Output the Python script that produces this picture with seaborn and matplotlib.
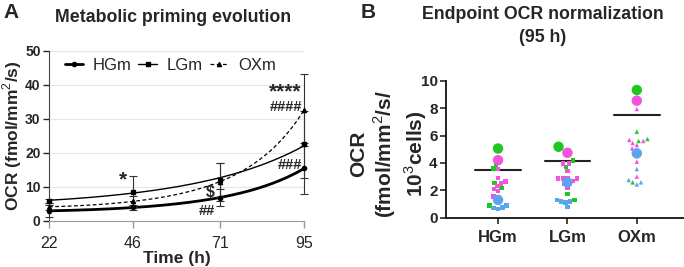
import numpy as np
import pandas as pd
import matplotlib
matplotlib.use("Agg")
import matplotlib.pyplot as plt
import seaborn as sns

# Panel A: OCR over time (mean +/- SD)
time_h = [22, 46, 71, 95]
hgm_mean = [2.9, 3.9, 6.8, 15.4]
hgm_err = [1.7, 0.8, 2.6, 7.4]
lgm_mean = [5.9, 8.6, 12.0, 22.5]
lgm_err = [0.6, 4.7, 4.9, 9.8]
oxm_mean = [4.1, 5.7, 11.5, 32.6]
oxm_err = [1.0, 1.5, 5.6, 10.5]

# Panel B: endpoint OCR normalized per 10^3 cells
groups = ["HGm", "LGm", "OXm"]
replicates = ["green", "magenta", "blue"]
rep_colors = {"green": "#1ec81e", "magenta": "#f055dc", "blue": "#5aa5f0"}
# replicate means (big dots)
rep_mean_hgm = [5.05, 4.2, 1.3]
rep_mean_lgm = [5.18, 4.74, 2.58]
rep_mean_oxm = [9.32, 8.54, 4.70]
# single wells (small dots)
hgm_green = [3.85, 3.6, 2.55, 2.15, 0.9]
hgm_magenta = [3.55, 2.9, 2.65, 2.5, 2.3, 2.1, 1.95, 1.55, 1.5]
hgm_blue = [1.15, 0.9, 0.75, 0.72, 0.62]
lgm_green = [4.7, 4.16, 3.72, 1.71, 1.29]
lgm_magenta = [3.97, 3.97, 3.41, 2.87, 2.87, 2.87, 2.87, 2.68, 2.51, 2.45, 2.19]
lgm_blue = [1.29, 1.17, 1.17, 1.1, 0.8]
oxm_green = [6.28, 5.74, 5.6, 4.77, 2.58]
oxm_magenta = [7.93, 5.67, 5.6, 5.45, 5.3, 5.06, 4.87, 4.5, 4.09, 3.0]
oxm_blue = [3.55, 2.75, 2.58, 2.43]

sns.set_style("ticks")
plt.rcParams['font.family'] = ['Liberation Sans', 'DejaVu Sans']
plt.rcParams['mathtext.fontset'] = 'custom'
plt.rcParams['mathtext.rm'] = 'Liberation Sans'
plt.rcParams['mathtext.bf'] = 'Liberation Sans:bold'

fig = plt.figure(figsize=(6.84, 2.67), dpi=100)
axA = fig.add_axes([49 / 684, 46.3 / 267, 255 / 684, 169.7 / 267])
axB = fig.add_axes([446 / 684, 49.3 / 267, 238 / 684, 137 / 267])

# ---- Panel A
series = [
    ("HGm", hgm_mean, hgm_err, "o", "-", 2.0, 3),
    ("LGm", lgm_mean, lgm_err, "s", "-", 1.0, 3.5),
    ("OXm", oxm_mean, oxm_err, "^", (0, (3, 2)), 0.9, 3),
]
t = np.array(time_h, dtype=float)
t_fine = np.linspace(t.min(), t.max(), 200)
handles = []
for name, m, e, mk, ls, lw, ms in series:
    # exponential-type growth fit through the means
    coef = np.polyfit(t, np.log(m), 2)
    fit = pd.DataFrame({"t": t_fine, "y": np.exp(np.polyval(coef, t_fine))})
    sns.lineplot(data=fit, x="t", y="y", ax=axA, color="black", lw=lw,
                 linestyle=ls, legend=False)
    axA.errorbar(time_h, m, yerr=e, fmt=mk, ms=ms, color="black", ecolor="#333333",
                 elinewidth=0.8, capsize=3, capthick=0.8, clip_on=False, zorder=3)
    h, = axA.plot([], [], color="black", lw=lw, linestyle=ls, marker=mk, ms=ms)
    handles.append(h)

axA.set_xlim(22, 95)
axA.set_ylim(0, 50)
axA.set_xticks(time_h)
axA.set_yticks([0, 10, 20, 30, 40, 50])
axA.yaxis.grid(True, color="#e6e6e6", lw=0.8)
axA.set_axisbelow(True)
for lab in axA.get_yticklabels():
    lab.set_fontweight("bold")
axA.tick_params(axis="y", labelsize=10, length=4, width=1, pad=2)
axA.tick_params(axis="x", labelsize=11.5, length=5, width=1, color="#999999", pad=6)
axA.spines["left"].set_color("#444444")
axA.spines["bottom"].set_color("#999999")
sns.despine(ax=axA)
axA.set_xlabel("Time (h)", fontsize=12.5, fontweight="bold", labelpad=0)
axA.set_ylabel("OCR (fmol/mm$^2$/s)", fontsize=12.5, fontweight="bold")
axA.yaxis.set_label_coords(-0.098, 0.5)
axA.legend(handles, ["HGm", "LGm", "OXm"], loc="upper center", bbox_to_anchor=(0.475, 1.05),
           ncol=3, frameon=False, fontsize=12, handlelength=1.1, columnspacing=0.4,
           handletextpad=0.6)

axA.text(43.2, 12.0, "*", fontsize=15, fontweight="bold", ha="center", va="center")
axA.text(68.3, 8.3, "$", fontsize=11.5, fontweight="bold", ha="center", va="center")
axA.text(67.2, 2.8, "##", fontsize=10.5, fontweight="bold", ha="center", va="center")
axA.text(91.0, 16.4, "###", fontsize=10.5, fontweight="bold", ha="center", va="center")
axA.text(89.8, 33.4, "####", fontsize=10.5, fontweight="bold", ha="center", va="center")
axA.text(89.5, 38.0, "****", fontsize=15, fontweight="bold", ha="center", va="center")

# ---- Panel B
small = pd.DataFrame({
    "group": (["HGm"] * (len(hgm_green) + len(hgm_magenta) + len(hgm_blue))
              + ["LGm"] * (len(lgm_green) + len(lgm_magenta) + len(lgm_blue))
              + ["OXm"] * (len(oxm_green) + len(oxm_magenta) + len(oxm_blue))),
    "rep": (["green"] * len(hgm_green) + ["magenta"] * len(hgm_magenta) + ["blue"] * len(hgm_blue)
            + ["green"] * len(lgm_green) + ["magenta"] * len(lgm_magenta) + ["blue"] * len(lgm_blue)
            + ["green"] * len(oxm_green) + ["magenta"] * len(oxm_magenta) + ["blue"] * len(oxm_blue)),
    "ocr": hgm_green + hgm_magenta + hgm_blue + lgm_green + lgm_magenta + lgm_blue
           + oxm_green + oxm_magenta + oxm_blue,
})
big = pd.DataFrame({
    "group": np.repeat(groups, 3),
    "rep": replicates * 3,
    "ocr": rep_mean_hgm + rep_mean_lgm + rep_mean_oxm,
})

markers = {"HGm": "s", "LGm": "s", "OXm": "^"}
for g in groups:
    sns.swarmplot(data=small[small["group"] == g], x="group", y="ocr", hue="rep",
                  order=groups, palette=rep_colors, marker=markers[g], size=3.2,
                  linewidth=0, ax=axB, legend=False)
sns.swarmplot(data=big, x="group", y="ocr", hue="rep", order=groups, palette=rep_colors,
              size=7.5, linewidth=0, ax=axB, legend=False)

means = big.groupby("group")["ocr"].mean().reindex(groups)
for i, v in enumerate(means):
    axB.plot([i - 0.33, i + 0.33], [v, v], color="#222222", lw=1.5, zorder=1)

axB.set_xlim(-0.75, 2.68)
axB.set_ylim(0, 10)
axB.set_yticks([0, 2, 4, 6, 8, 10])
axB.set_xlabel("")
axB.set_ylabel("")
for lab in axB.get_yticklabels() + axB.get_xticklabels():
    lab.set_fontweight("bold")
axB.tick_params(axis="y", labelsize=11, length=4, width=1.2, pad=2)
axB.tick_params(axis="x", labelsize=12, length=4, width=1.2, pad=5)
for s in ["left", "bottom"]:
    axB.spines[s].set_linewidth(1.3)
    axB.spines[s].set_color("#111111")
sns.despine(ax=axB)
fig.text(389 / 684, 1 - 154 / 267, "OCR\n(fmol/mm$^2$/s/\n10$^3$cells)", rotation=90,
         fontsize=15, fontweight="bold", ha="center", va="center", multialignment="center",
         linespacing=1.2)

# ---- titles and panel letters
fig.text(3 / 684, 1 - 12 / 267, "A", fontsize=15, fontweight="bold", va="center")
fig.text(173 / 684, 1 - 17 / 267, "Metabolic priming evolution", fontsize=12.8,
         fontweight="bold", ha="center", va="center")
fig.text(361 / 684, 1 - 12 / 267, "B", fontsize=15, fontweight="bold", va="center")
fig.text(543 / 684, 1 - 26 / 267, "Endpoint OCR normalization\n(95 h)", fontsize=12.8,
         fontweight="bold", ha="center", va="center", linespacing=1.5)

fig.savefig("out.png", dpi=100)
